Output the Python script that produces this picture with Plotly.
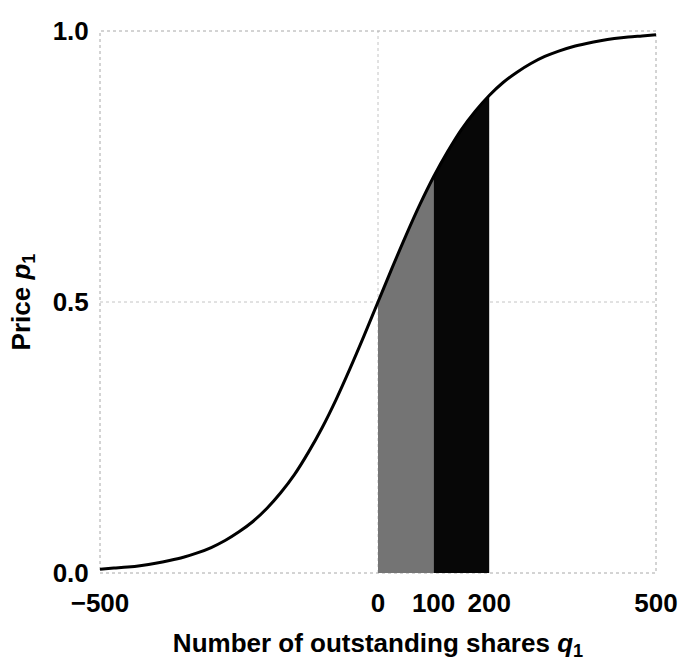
import plotly.graph_objects as go

# Outstanding shares q1 and price p1
shares = [-500, -475, -450, -425, -400, -375, -350, -325, -300, -275, -250, -225,
          -200, -175, -150, -125, -100, -75, -50, -25, 0, 25, 50, 75, 100, 125,
          150, 175, 200, 225, 250, 275, 300, 325, 350, 375, 400, 425, 450, 475, 500]
price = [0.007, 0.009, 0.011, 0.014, 0.018, 0.023, 0.029, 0.037, 0.047, 0.060, 0.076, 0.095,
         0.119, 0.148, 0.182, 0.223, 0.269, 0.321, 0.378, 0.438, 0.500, 0.562, 0.622, 0.679,
         0.731, 0.777, 0.818, 0.852, 0.881, 0.905, 0.924, 0.940, 0.953, 0.963, 0.971, 0.977,
         0.982, 0.986, 0.989, 0.991, 0.993]

# Shaded purchase intervals
bands = [(0, 100, "#747474"), (100, 200, "#070707")]

x_ticks = [-500, 0, 100, 200, 500]
x_ticklabels = ["\u2212500", "0", "100", "200", "500"]
y_ticks = [0.0, 0.5, 1.0]
y_ticklabels = ["0.0", "0.5", "1.0"]
grid_x = [0]
grid_y = [0.5]

fig = go.Figure()

for lo, hi, col in bands:
    xs = [q for q in shares if lo <= q <= hi]
    ys = [p for q, p in zip(shares, price) if lo <= q <= hi]
    fig.add_trace(go.Scatter(x=xs, y=ys, mode="lines", line=dict(width=0, shape="spline"),
                             fill="tozeroy", fillcolor=col, hoverinfo="skip"))

fig.add_trace(go.Scatter(x=shares, y=price, mode="lines",
                         line=dict(color="black", width=3, shape="spline")))

font = dict(family="Liberation Sans, Arial, sans-serif", size=26, color="black",
            weight="bold")

fig.update_layout(
    width=681, height=665,
    margin=dict(l=100, r=25, t=31, b=92, autoexpand=False),
    paper_bgcolor="white", plot_bgcolor="white",
    showlegend=False,
    font=font,
    xaxis=dict(range=[-500, 500], tickvals=x_ticks, ticktext=x_ticklabels,
               showgrid=False, zeroline=False, showline=False, automargin=False,
               ticks="outside", ticklen=7, tickcolor="rgba(0,0,0,0)",
               title=dict(text="Number of outstanding shares <i>q</i><sub>1</sub>",
                          standoff=16, font=font)),
    yaxis=dict(range=[0, 1], tickvals=y_ticks, ticktext=y_ticklabels,
               showgrid=False, zeroline=False, showline=False, automargin=False,
               ticks="outside", ticklen=5, tickcolor="rgba(0,0,0,0)",
               title=dict(text="Price <i>p</i><sub>1</sub>", standoff=14, font=font)),
)

for gx in grid_x:
    fig.add_shape(type="line", xref="x", yref="paper", x0=gx, x1=gx, y0=0, y1=1,
                  line=dict(color="#c4c4c4", width=1, dash="dot"), layer="below")
for gy in grid_y:
    fig.add_shape(type="line", xref="paper", yref="y", x0=0, x1=1, y0=gy, y1=gy,
                  line=dict(color="#c4c4c4", width=1, dash="dot"), layer="below")

fig.add_shape(type="rect", xref="paper", yref="paper", x0=0, y0=0, x1=1, y1=1,
              line=dict(color="#a8a8a8", width=1, dash="dot"), layer="below")

fig.write_html("out.html")
